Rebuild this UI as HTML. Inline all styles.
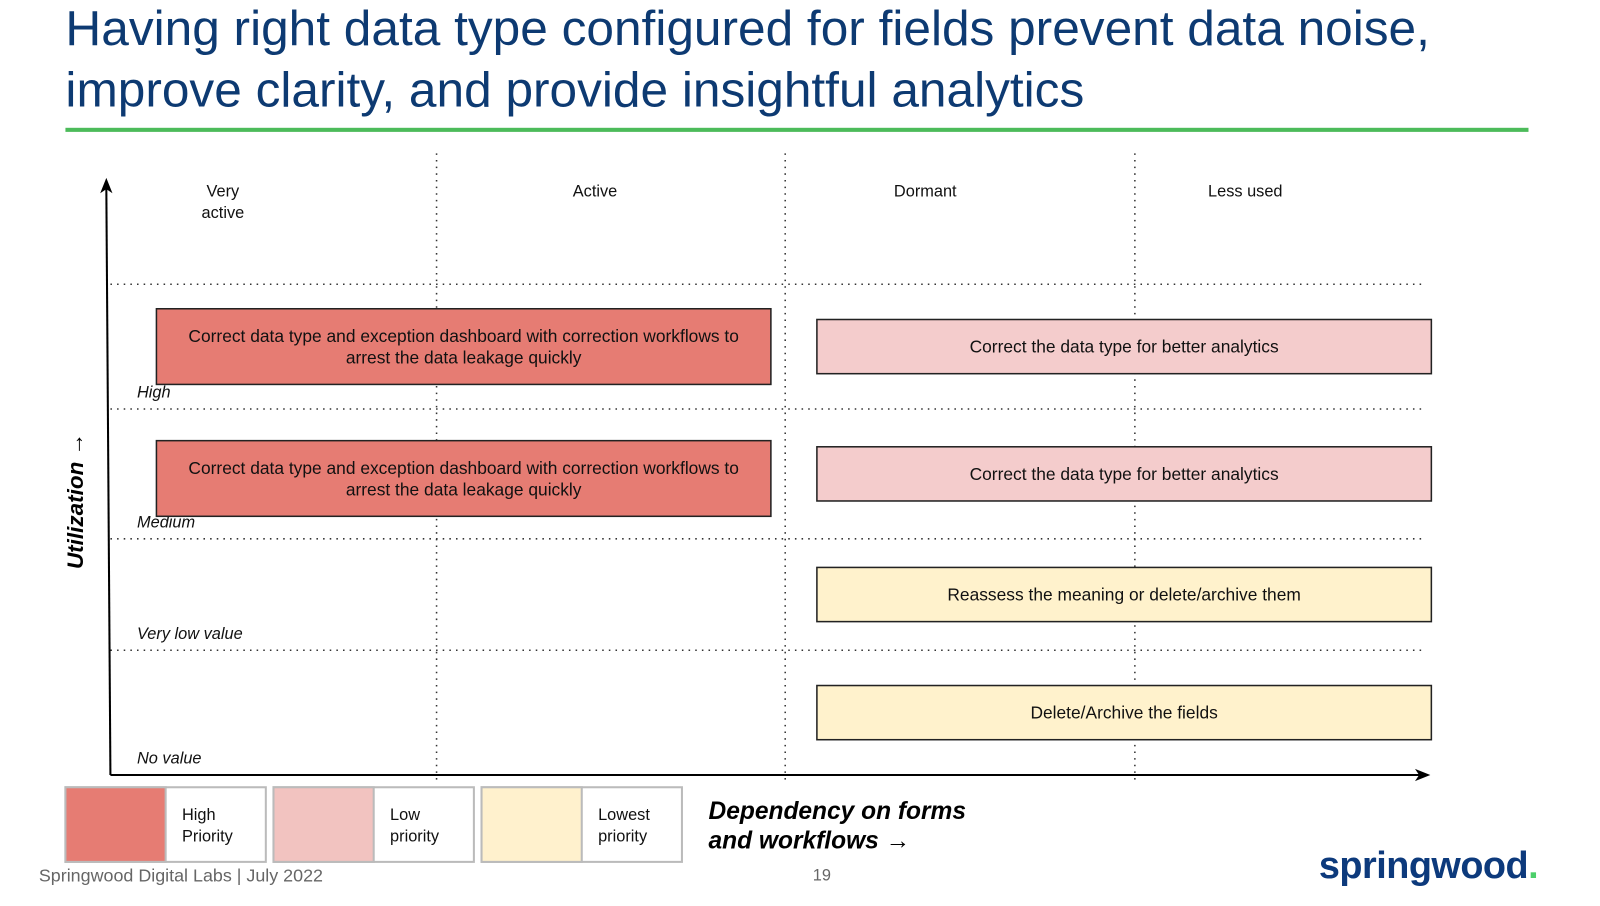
<!DOCTYPE html>
<html><head><meta charset="utf-8">
<style>
html,body{margin:0;padding:0;background:#fff;width:1600px;height:906px;overflow:hidden}
#wrap{position:absolute;left:0;top:0;width:1565px;height:886px;transform:scale(1.0224);transform-origin:0 0;font-family:"Liberation Sans",sans-serif}
.t{position:absolute;white-space:nowrap}
</style></head><body>
<div id="wrap">
<div class="t" style="left:64px;top:-2px;font-size:48.5px;line-height:60px;color:#0d3a72">Having right data type configured for fields prevent data noise,<br>improve clarity, and provide insightful analytics</div>
<div style="position:absolute;left:64px;top:125px;width:1431px;height:4px;background:#4cbb5a"></div>
<svg id="chart" width="1565" height="886" style="position:absolute;left:0;top:0"></svg>
<div class="t" style="left:38px;top:846px;font-size:17.5px;color:#666">Springwood Digital Labs | July 2022</div>
<div class="t" style="left:795px;top:848px;font-size:16px;color:#666">19</div>
<div class="t" style="left:1290px;top:826px;font-size:37px;font-weight:bold;color:#0d3a7c;letter-spacing:-0.5px">springwood<span style="color:#4ccf6a">.</span></div>
</div>
<script>
const columns=["Very\nactive","Active","Dormant","Less used"];
const rows=["High","Medium","Very low value","No value"];
const boxCols=[[0,1],[2,3],[0,1],[2,3],[2,3],[2,3]];
const boxRows=[0,0,1,1,2,3];
const boxTexts=["Correct data type and exception dashboard with correction workflows to\narrest the data leakage quickly","Correct the data type for better analytics","Correct data type and exception dashboard with correction workflows to\narrest the data leakage quickly","Correct the data type for better analytics","Reassess the meaning or delete/archive them","Delete/Archive the fields"];
const boxLevels=["high","low","high","low","lowest","lowest"];
const legendLabels=["High\nPriority","Low\npriority","Lowest\npriority"];
const legendLevels=["high","low","lowest"];
</script>
<script>
const NS="http://www.w3.org/2000/svg";
const svg=document.getElementById('chart');
const colors={high:"#e67c73",low:"#f4cccc",lowest:"#fff2cc"};
const legendColors={high:"#e67c73",low:"#f2c3c0",lowest:"#fff1cd"};
function mk(t,a,p){const e=document.createElementNS(NS,t);for(const k in a)e.setAttribute(k,a[k]);(p||svg).appendChild(e);return e;}
const colEdges=[108,427,768,1110,1400];
const rowTops=[278,400,527,636,758];
function xL(c){return colEdges[c];}
function xR(c){return colEdges[c+1];}
function yT(r){return rowTops[r];}
function yB(r){return rowTops[r+1];}
for(let i=1;i<4;i++){const l=mk('line',{x1:colEdges[i],x2:colEdges[i],y1:150,y2:766,stroke:'#333','stroke-width':1.5,'stroke-dasharray':'1.5 5'});
}
for(let i=0;i<4;i++){const l=mk('line',{x1:108,x2:1395,y1:rowTops[i],y2:rowTops[i],stroke:'#333','stroke-width':1.5,'stroke-dasharray':'1.5 5'});
}
const ya=mk('line',{x1:108,y1:758,x2:104,y2:184,stroke:'#000','stroke-width':2});

mk('path',{d:'M104 174 L98 189 L104 185 L110 189 Z',fill:'#000'});
const xa=mk('line',{x1:108,y1:758,x2:1390,y2:758,stroke:'#000','stroke-width':2});

mk('path',{d:'M1399 758 L1384 752 L1388 758 L1384 764 Z',fill:'#000'});
columns.forEach((c,i)=>{const cx=[218,582,905,1218][i];const t=mk('text',{x:cx,y:192,'font-size':16,'text-anchor':'middle',fill:'#111'});

c.split('\n').forEach((s,j)=>{const ts=mk('tspan',{x:cx,dy:j?21:0},t);ts.textContent=s;});});
rows.forEach((r,i)=>{const t=mk('text',{x:134,y:yB(i)-11,'font-size':16,'font-style':'italic',fill:'#111'});t.textContent=r;
});
boxTexts.forEach((txt,i)=>{const c=boxCols[i],r=boxRows[i];const lvl=boxLevels[i];
let x1,x2,y1,y2;const mid=(yT(r)+yB(r))/2;
if(lvl==='high'){x1=xL(c[0])+45;x2=xR(c[1])-14;const m=mid+r*4.5;y1=m-37;y2=m+37;}
else{x1=xL(c[0])+31;x2=xR(c[1]);y1=mid-26.5;y2=mid+26.5;}
const g=mk('g',{});
mk('rect',{x:x1,y:y1,width:x2-x1,height:y2-y1,fill:colors[lvl],stroke:'#222','stroke-width':1.5},g);
const lines=txt.split('\n');const cy=(y1+y2)/2;
lines.forEach((s,j)=>{const t=mk('text',{x:(x1+x2)/2,y:cy+6+(j-(lines.length-1)/2)*21,'font-size':17,'text-anchor':'middle',fill:'#111'},g);t.textContent=s;});});
legendLabels.forEach((lab,i)=>{const x=63+i*203.5;const g=mk('g',{});
mk('rect',{x:x+1,y:770,width:196,height:73,fill:'#fff',stroke:'#bbb','stroke-width':2},g);
mk('rect',{x:x+1,y:770,width:98,height:73,fill:legendColors[legendLevels[i]],stroke:'#bbb','stroke-width':2},g);
const t=mk('text',{x:x+115,y:802,'font-size':16,fill:'#111'},g);
lab.split('\n').forEach((s,j)=>{const ts=mk('tspan',{x:x+115,dy:j?21:0},t);ts.textContent=s;});});
const xt=mk('text',{x:693,y:801,'font-size':24,'font-weight':'bold','font-style':'italic',fill:'#000'});

['Dependency on forms','and workflows →'].forEach((s,j)=>{const ts=mk('tspan',{x:693,dy:j?29:0},xt);ts.textContent=s;});
const yt=mk('text',{x:0,y:0,'font-size':22,'font-weight':'bold','font-style':'italic',fill:'#000','text-anchor':'middle',transform:'translate(81,490) rotate(-90)'});

yt.textContent='Utilization →';
</script>
</body></html>
